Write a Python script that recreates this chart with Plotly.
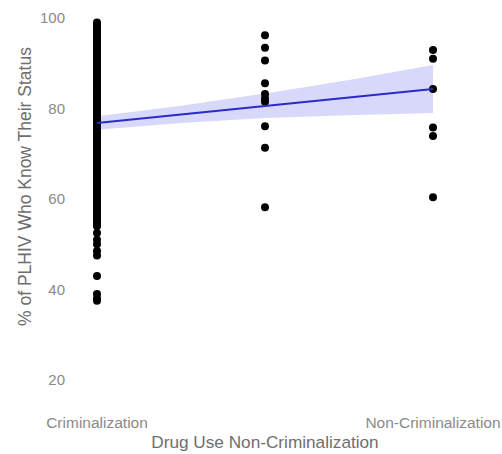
import plotly.graph_objects as go

# ---- data ----
x_labels = ["Criminalization", "Non-Criminalization"]
x_tickvals = [0, 1]

crim_x = 0
crim_y = [99, 98.5, 98, 97.5, 97, 96.5, 96, 95.5, 95, 94.5, 94, 93.5, 93, 92.5, 92,
          91.5, 91, 90.5, 90, 89.5, 89, 88.5, 88, 87.5, 87, 86.5, 86, 85.5, 85, 84.5,
          84, 83.5, 83, 82.5, 82, 81.5, 81, 80.5, 80, 79.5, 79, 78.5, 78, 77.5, 77,
          76.5, 76, 75.5, 75, 74.5, 74, 73.5, 73, 72.5, 72, 71.5, 71, 70.5, 70, 69.5,
          69, 68.5, 68, 67.5, 67, 66.5, 66, 65.5, 65, 64.5, 64, 63.5, 63, 62.5, 62,
          61.5, 61, 60.5, 60, 59.5, 59, 58.5, 58, 57.5, 57, 56.5, 56, 55.5, 55, 54.5,
          54, 52.5, 51, 50, 48.5, 47.5, 43, 39, 38, 37.5]

partial_x = 0.5
partial_y = [96.2, 93.4, 90.6, 85.6, 83.2, 82.2, 81.5, 76.1, 71.3, 58.2]

noncrim_x = 1
noncrim_y = [92.9, 91.0, 84.3, 75.8, 73.9, 60.4]

fit_x = [0, 0.25, 0.5, 0.75, 1]
fit_y = [76.8, 78.7, 80.6, 82.4, 84.3]
fit_lower = [75.3, 76.8, 77.9, 78.5, 79.0]
fit_upper = [78.3, 80.6, 83.3, 86.3, 89.6]

y_ticks = [20, 40, 60, 80, 100]

x_title = "Drug Use Non-Criminalization"
y_title = "% of PLHIV Who Know Their Status"

# ---- figure ----
fig = go.Figure()

fig.add_trace(go.Scatter(
    x=fit_x + fit_x[::-1], y=fit_upper + fit_lower[::-1],
    fill="toself", fillcolor="rgba(60,60,235,0.20)",
    line=dict(width=0), mode="lines", hoverinfo="skip", showlegend=False))

pts_x = [crim_x] * len(crim_y) + [partial_x] * len(partial_y) + [noncrim_x] * len(noncrim_y)
pts_y = crim_y + partial_y + noncrim_y
fig.add_trace(go.Scatter(
    x=pts_x, y=pts_y, mode="markers",
    marker=dict(color="black", size=8), showlegend=False))

fig.add_trace(go.Scatter(
    x=fit_x, y=fit_y, mode="lines",
    line=dict(color="#2b2bc8", width=2.2), showlegend=False))

fig.update_layout(
    width=502, height=454,
    margin=dict(l=72, r=44, t=5, b=46),
    paper_bgcolor="white", plot_bgcolor="white",
    font=dict(family="Liberation Sans, Arial, sans-serif", color="#808080"),
    xaxis=dict(
        range=[-0.0744, 1.0744], tickvals=x_tickvals, ticktext=x_labels,
        showgrid=False, zeroline=False, showline=False, ticks="",
        tickfont=dict(size=15.5, color="#8a8a8a"), automargin=False,
        ticklabelstandoff=3,
        title=dict(text=x_title, font=dict(size=17.2, color="#6e6e6e"), standoff=6),
    ),
    yaxis=dict(
        range=[13.81, 102.87], tickvals=y_ticks,
        showgrid=False, zeroline=False, showline=False, ticks="",
        tickfont=dict(size=15, color="#8a8a8a"), automargin=False,
        ticklabelstandoff=6,
    ),
    annotations=[dict(
        text=y_title, textangle=-90, xref="paper", yref="paper",
        x=-0.1218, y=0.551, xanchor="center", yanchor="middle", showarrow=False,
        font=dict(size=17.5, color="#6e6e6e"),
    )],
)

fig.write_html(
    "out.html",
    config={"displayModeBar": False},
    post_script="document.body.style.margin='0';document.body.style.overflow='hidden';",
)
